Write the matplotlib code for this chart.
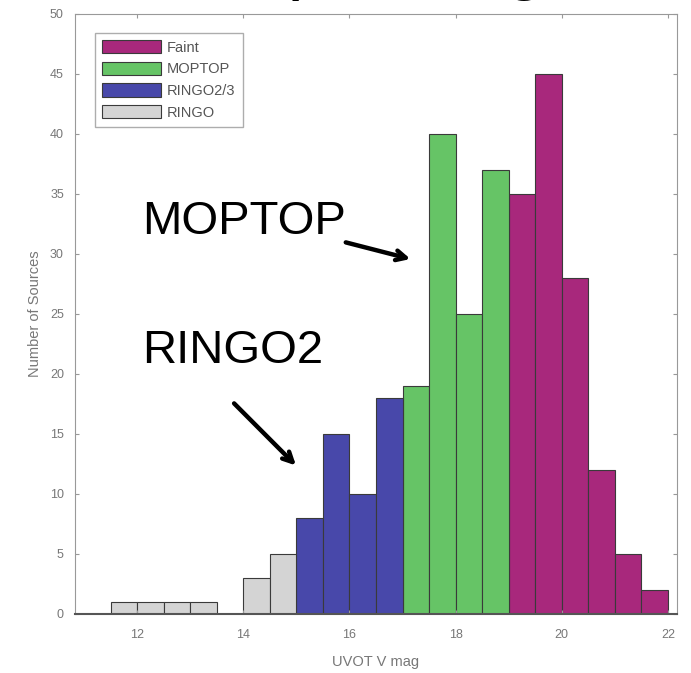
import numpy as np
import matplotlib.pyplot as plt

# ===============================
# DATA
# ===============================
BIN_WIDTH = 0.5

ringo_edges = [11.5, 12.0, 12.5, 13.0, 13.5, 14.0, 14.5]
ringo_counts = [1, 1, 1, 1, 0, 3, 5]

ringo23_edges = [15.0, 15.5, 16.0, 16.5]
ringo23_counts = [8, 15, 10, 18]

moptop_edges = [17.0, 17.5, 18.0, 18.5]
moptop_counts = [19, 40, 25, 37]

faint_edges = [19.0, 19.5, 20.0, 20.5, 21.0, 21.5]
faint_counts = [35, 45, 28, 12, 5, 2]

groups = [
    ("Faint", faint_edges, faint_counts, "#a8287c"),
    ("MOPTOP", moptop_edges, moptop_counts, "#66c466"),
    ("RINGO2/3", ringo23_edges, ringo23_counts, "#4848aa"),
    ("RINGO", ringo_edges, ringo_counts, "#d4d4d4"),
]

# ===============================
# PLOT
# ===============================
plt.rcParams["font.family"] = ["Liberation Sans", "DejaVu Sans"]
fig = plt.figure(figsize=(6.91, 6.73), dpi=100)
ax = fig.add_axes([75 / 691, 59 / 673, 602 / 691, 600.5 / 673])

for label, edges, counts, color in groups:
    ax.bar(edges, counts, width=BIN_WIDTH, align="edge", color=color,
           edgecolor="#3a3a3a", linewidth=0.8, label=label)

ax.set_xlim(10.83, 22.17)
ax.set_ylim(0, 50)
ax.set_xticks(np.arange(12, 23, 2))
ax.set_yticks(np.arange(0, 51, 5))
ax.tick_params(direction="in", top=True, right=True, length=3,
               color="#999999", labelcolor="#777777", labelsize=9)
ax.tick_params(axis="x", pad=11)
ax.tick_params(axis="y", pad=8)
for side in ["top", "right", "left"]:
    ax.spines[side].set_color("#999999")
ax.spines["bottom"].set_color("#555555")
ax.spines["bottom"].set_linewidth(1.5)
ax.set_xlabel("UVOT V mag", color="#777777", fontsize=10.5, labelpad=10)
ax.set_ylabel("Number of Sources", color="#777777", fontsize=10.5, labelpad=6)

leg = ax.legend(loc="upper left", bbox_to_anchor=(0.033, 0.968), fontsize=10.5,
                frameon=True, fancybox=False, edgecolor="#999999",
                handlelength=4.05, handleheight=1.03, labelspacing=0.48,
                handletextpad=0.4, borderpad=0.5, borderaxespad=0)
leg.get_frame().set_linewidth(1.0)
for t in leg.get_texts():
    t.set_color("#555555")

# annotations
arrow = dict(arrowstyle="->,head_length=0.7,head_width=0.35",
             color="black", lw=3.2)
ax.text(12.09, 31.6, "MOPTOP", fontsize=34, color="black")
ax.annotate("", xy=(17.2, 29.5), xytext=(15.88, 31.0), arrowprops=arrow)
ax.text(12.09, 20.9, "RINGO2", fontsize=34, color="black")
ax.annotate("", xy=(15.03, 12.2), xytext=(13.79, 17.7), arrowprops=arrow)

# slide title, cut off by the top of the image
fig.text(139 / 691, 1.0 + 14 / 673, "Sample magnitudes", fontsize=52,
         color="black", va="baseline", ha="left")

fig.savefig("out.png", dpi=100)
